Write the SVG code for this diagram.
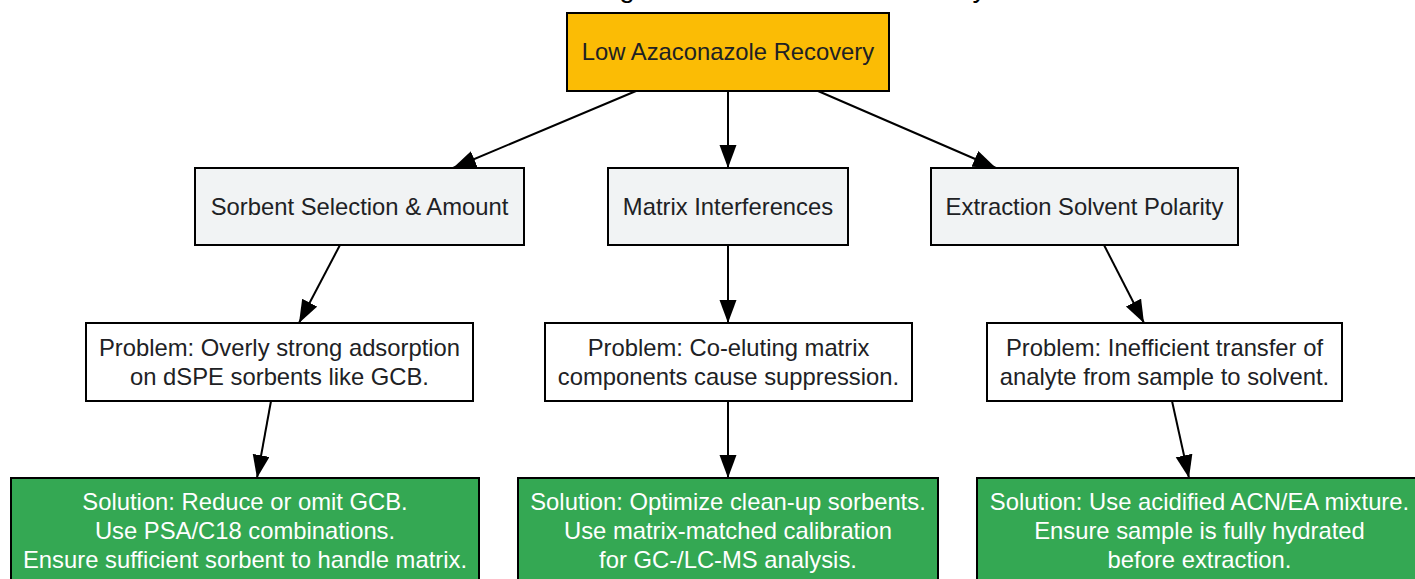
<svg xmlns="http://www.w3.org/2000/svg" width="1415" height="579" viewBox="0 0 1415 579">
<defs>
<style>
text{font-family:"Liberation Sans",Arial,sans-serif;font-size:23.8px;text-anchor:middle;fill:#202124}
.title{font-size:28px;text-anchor:start;fill:#000}
rect{stroke:#000;stroke-width:2}
.root rect{fill:#FBBC05}
.cat rect{fill:#F1F3F4}
.prob rect{fill:#FFFFFF}
.sol rect{fill:#34A853}
.sol text{fill:#FFFFFF}
.edges line{stroke:#000;stroke-width:2;marker-end:url(#arr)}
</style>
<marker id="arr" markerUnits="userSpaceOnUse" markerWidth="24" markerHeight="18" refX="23" refY="8.5" orient="auto" viewBox="0 0 24 18">
<path d="M0,0 L23,8.5 L0,17 z" fill="#000"/>
</marker>
</defs>
<rect width="1415" height="579" fill="#fff" style="stroke:none"/>
<text class="title" x="435" y="-3">Troubleshooting Low Azaconazole Recovery</text>
<g class="edges" id="connectors">
<line x1="636" y1="91" x2="453" y2="168"/>
<line x1="728" y1="91" x2="728" y2="168"/>
<line x1="818" y1="91" x2="996" y2="168"/>
<line x1="340" y1="245" x2="299" y2="323"/>
<line x1="728" y1="245" x2="728" y2="323"/>
<line x1="1104" y1="245" x2="1144" y2="323"/>
<line x1="271" y1="401" x2="257" y2="478"/>
<line x1="728" y1="401" x2="728" y2="478"/>
<line x1="1172" y1="401" x2="1189" y2="478"/>
</g>
<g id="root" class="root">
<rect x="567" y="13" width="322" height="78"/>
<text x="728" y="60">Low Azaconazole Recovery</text>
</g>
<g id="cat_sorbent" class="cat">
<rect x="195" y="168" width="329" height="77"/>
<text x="359.5" y="215">Sorbent Selection &amp; Amount</text>
</g>
<g id="cat_matrix" class="cat">
<rect x="608" y="168" width="240" height="77"/>
<text x="728" y="215">Matrix Interferences</text>
</g>
<g id="cat_solvent" class="cat">
<rect x="931" y="168" width="307" height="77"/>
<text x="1084.5" y="215">Extraction Solvent Polarity</text>
</g>
<g id="prob_sorbent" class="prob">
<rect x="86" y="323" width="387" height="78"/>
<text x="279.5" y="356">Problem: Overly strong adsorption</text>
<text x="279.5" y="385">on dSPE sorbents like GCB.</text>
</g>
<g id="prob_matrix" class="prob">
<rect x="545" y="323" width="367" height="78"/>
<text x="728.5" y="356">Problem: Co-eluting matrix</text>
<text x="728.5" y="385">components cause suppression.</text>
</g>
<g id="prob_solvent" class="prob">
<rect x="987" y="323" width="355" height="78"/>
<text x="1164.5" y="356">Problem: Inefficient transfer of</text>
<text x="1164.5" y="385">analyte from sample to solvent.</text>
</g>
<g id="sol_sorbent" class="sol">
<rect x="11" y="478" width="468" height="120"/>
<text x="245" y="510">Solution: Reduce or omit GCB.</text>
<text x="245" y="539">Use PSA/C18 combinations.</text>
<text x="245" y="568">Ensure sufficient sorbent to handle matrix.</text>
</g>
<g id="sol_matrix" class="sol">
<rect x="518" y="478" width="420" height="120"/>
<text x="728" y="510">Solution: Optimize clean-up sorbents.</text>
<text x="728" y="539">Use matrix-matched calibration</text>
<text x="728" y="568">for GC-/LC-MS analysis.</text>
</g>
<g id="sol_solvent" class="sol">
<rect x="977" y="478" width="445" height="120"/>
<text x="1199.5" y="510">Solution: Use acidified ACN/EA mixture.</text>
<text x="1199.5" y="539">Ensure sample is fully hydrated</text>
<text x="1199.5" y="568">before extraction.</text>
</g>
</svg>
